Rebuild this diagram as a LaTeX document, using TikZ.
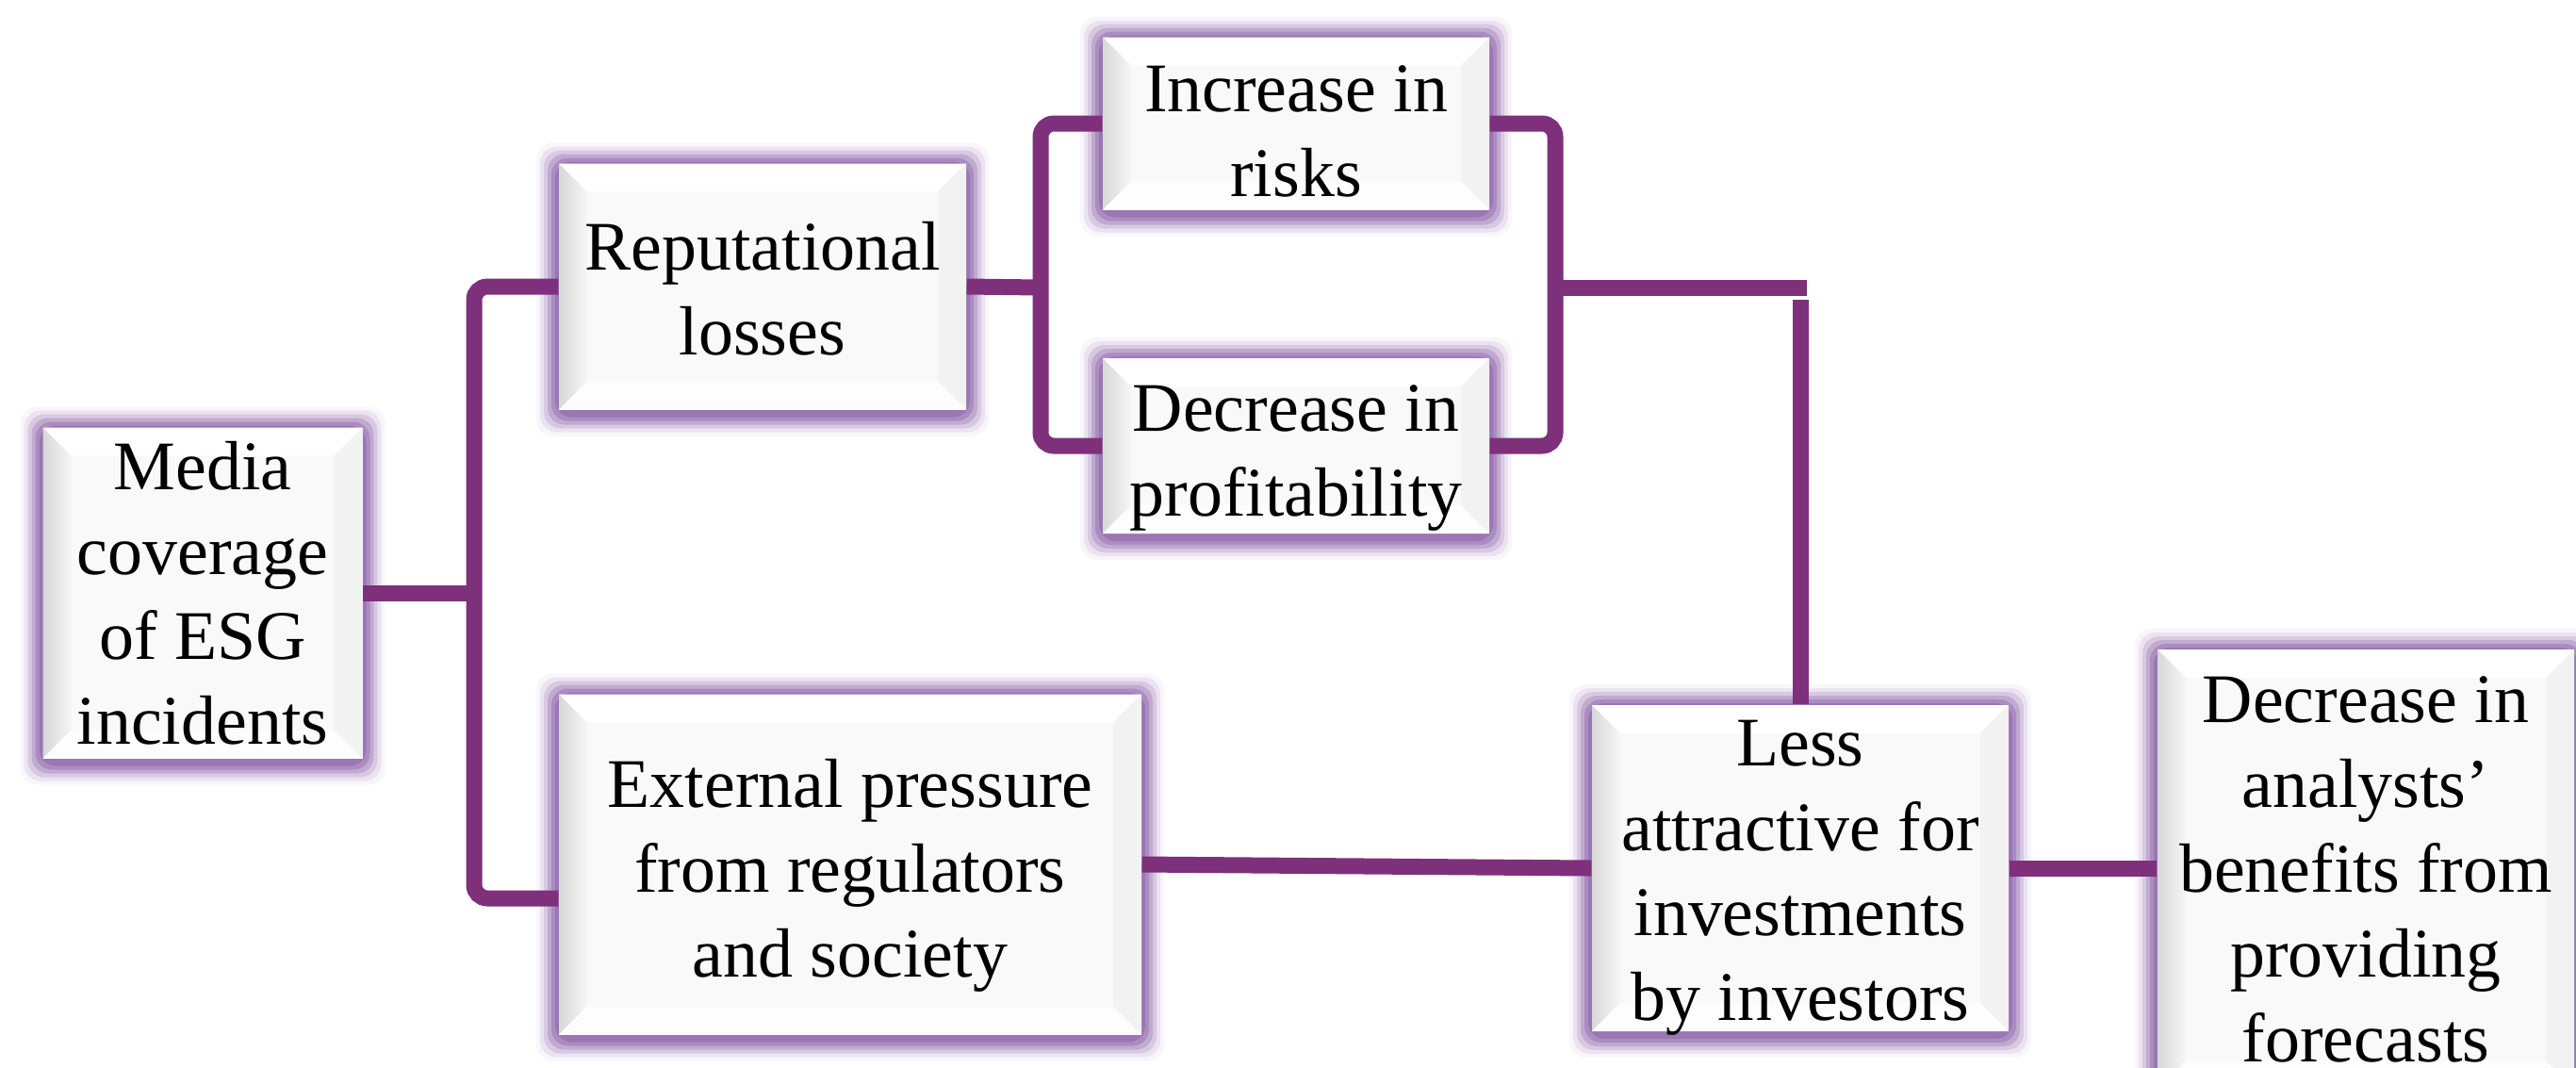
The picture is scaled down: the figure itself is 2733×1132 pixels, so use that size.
\documentclass[tikz,border=0pt]{standalone}
\usepackage{fontspec}
\setmainfont{Liberation Serif}
\usetikzlibrary{calc}
\newdimen\px \px=0.01cm
\definecolor{linkc}{RGB}{126,48,122}
\definecolor{glowc}{RGB}{138,96,168}
\definecolor{facec}{RGB}{249,249,249}
\definecolor{bevL}{RGB}{216,216,216}
\definecolor{bevLi}{RGB}{246,246,246}
\definecolor{bevR}{RGB}{242,242,242}
\definecolor{bevB}{RGB}{253,253,253}
\tikzset{
  link/.style={draw=linkc, line width=17\px},
  elbow/.style={link, rounded corners=4pt},
  box/.style={draw=none, inner sep=0pt},
  txt/.style={inner sep=0pt, align=center,
    font=\fontsize{21}{25.6}\selectfont},
}
% bevelled panel with a soft purple glow:
% name, centre x, centre y, width, height, downward text offset, text
\newcommand\panel[7]{%
  \pgfmathsetmacro\xa{#2-#4/2}\pgfmathsetmacro\xb{#2+#4/2}%
  \pgfmathsetmacro\ya{#3-#5/2}\pgfmathsetmacro\yb{#3+#5/2}%
  \foreach \gd/\go in {24/0.06,20/0.12,16/0.2,12/0.3,8/0.4,4/0.5}{%
    \fill[glowc, opacity=\go, rounded corners=5pt]
      (\xa-\gd,\ya-\gd+2) rectangle (\xb+\gd,\yb+\gd+4);}
  \fill[facec] (\xa,\ya) rectangle (\xb,\yb);
  \fill[white] (\xa,\ya) -- (\xb,\ya) -- (\xb-30,\ya+30) -- (\xa+30,\ya+30) -- cycle;
  \shade[left color=bevL, right color=bevLi]
    (\xa,\ya) -- (\xa+30,\ya+30) -- (\xa+30,\yb-30) -- (\xa,\yb) -- cycle;
  \fill[bevR] (\xb,\ya) -- (\xb,\yb) -- (\xb-30,\yb-30) -- (\xb-30,\ya+30) -- cycle;
  \fill[bevB] (\xa,\yb) -- (\xb,\yb) -- (\xb-30,\yb-30) -- (\xa+30,\yb-30) -- cycle;
  \node[box, minimum width=#4\px, minimum height=#5\px] (#1) at (#2,#3) {};
  \node[txt] (#1-text) at ($(#1.center)+(0,#6)$) {#7};
}
\begin{document}
\begin{tikzpicture}[x=0.01cm, y=-0.01cm]
  \useasboundingbox (0,0) rectangle (2733,1132);
  \clip (0,0) rectangle (2733,1132);

  % panels
  \panel{media}{215}{629}{339}{351}{0}{Media\\coverage\\of ESG\\incidents}
  \panel{rep}{809}{304}{432}{261}{2}{Reputational\\losses}
  \panel{inc}{1375}{131}{410}{183}{8}{Increase in\\risks}
  \panel{dec}{1375}{473}{410}{186}{13}{Decrease in\\profitability}
  \panel{ext}{902}{917}{618}{361}{12}{External pressure\\from regulators\\and society}
  \panel{less}{1910}{921}{442}{346}{10}{Less\\attractive for\\investments\\by investors}
  \panel{ana}{2510}{922}{442}{466}{0}{Decrease in\\analysts’\\benefits from\\providing\\forecasts}

  % junction points of the connectors
  \coordinate (j1) at (503,629);
  \coordinate (j2) at (1104,305);
  \coordinate (j3) at (1650,305);
  \coordinate (j4) at (1917,305);
  \coordinate (j5) at (1910,318);

  % connectors
  \draw[link] (media.east) -- (j1);
  \draw[elbow] (rep.west) -| (j1) |- ($(ext.west)+(0,36)$);
  \draw[link] (rep.east) -- (j2);
  \draw[elbow] (inc.west) -| (j2) |- (dec.west);
  \draw[elbow] (inc.east) -| (j3) |- (dec.east);
  \draw[link] (j3) -- (j4);
  \draw[link] (less.north) -- (j5);
  \draw[link] (ext.east) -- (less.west);
  \draw[link] (less.east) -- (ana.west |- less.east);
\end{tikzpicture}
\end{document}
